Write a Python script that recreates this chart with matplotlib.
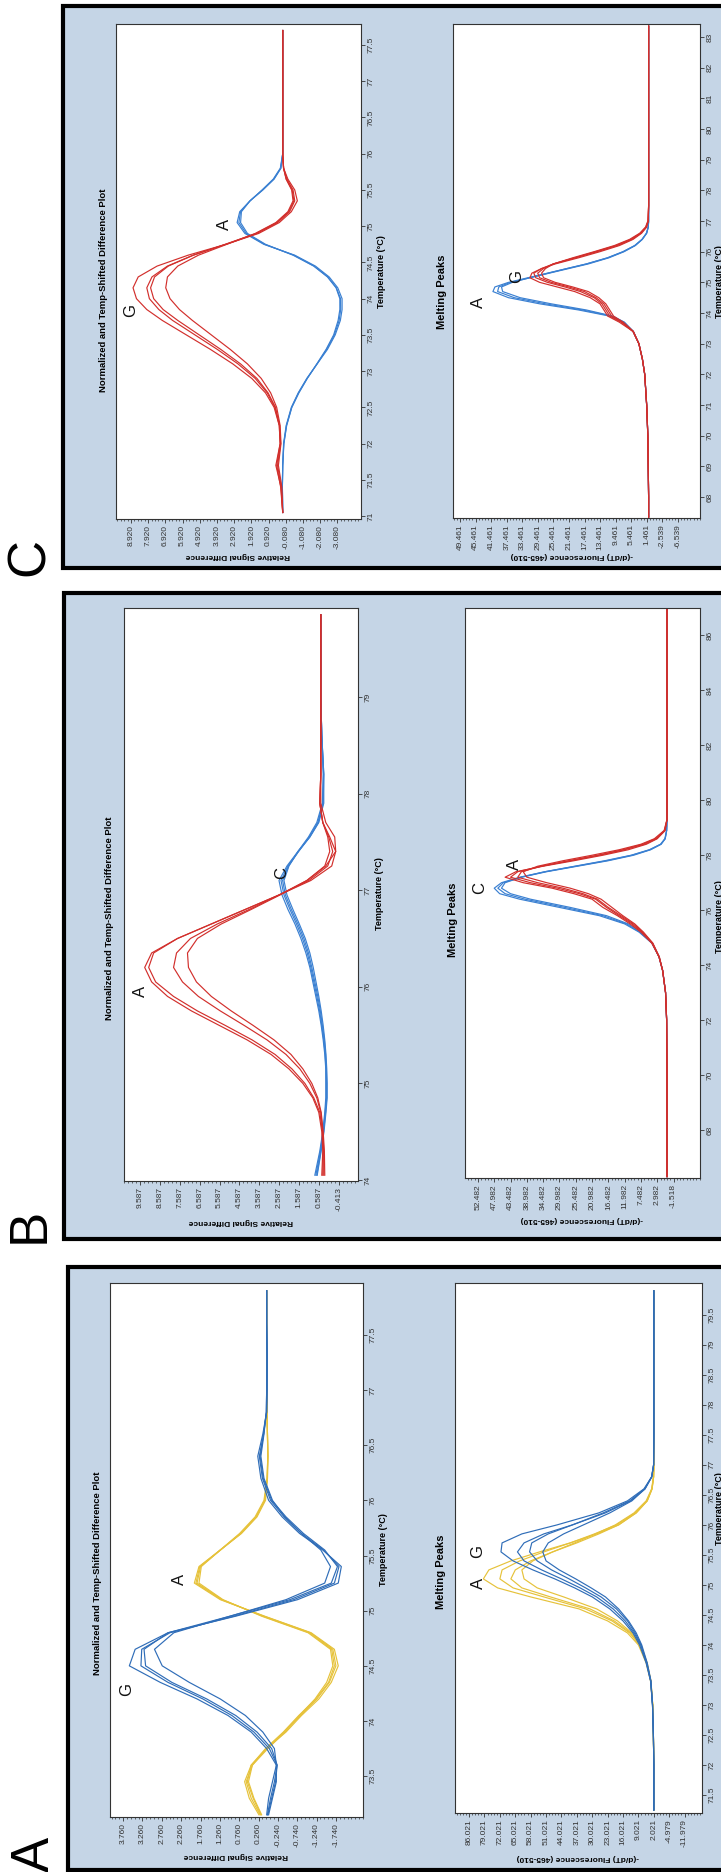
import matplotlib
matplotlib.use("Agg")
import matplotlib.pyplot as plt
from matplotlib.patches import Rectangle
from matplotlib.ticker import AutoMinorLocator

plt.rcParams['font.family'] = ['Liberation Sans', 'DejaVu Sans']

# ---------------- data ----------------
# Panel A - difference plot
a_diff_t = [73.15, 73.3, 73.45, 73.6, 73.75, 73.9, 74.05, 74.2, 74.35, 74.5, 74.65, 74.8, 74.95, 75.1,
            75.25, 75.4, 75.55, 75.7, 75.85, 76.0, 76.2, 76.4, 76.6, 76.8, 77.0, 77.3, 77.6, 77.9]
a_diff_G = [
    [0.00, -0.10, -0.20, -0.20, 0.05, 0.45, 1.05, 1.85, 2.80, 3.60, 3.45, 2.60, 0.85, -0.75,
     -1.80, -1.88, -1.40, -0.80, -0.35, 0.00, 0.20, 0.28, 0.15, 0.05, 0.04, 0.04, 0.05, 0.05],
    [0.02, -0.08, -0.18, -0.22, -0.02, 0.38, 0.95, 1.70, 2.60, 3.30, 3.28, 2.55, 0.90, -0.65,
     -1.70, -1.82, -1.42, -0.85, -0.40, -0.05, 0.16, 0.24, 0.13, 0.05, 0.04, 0.04, 0.05, 0.05],
    [0.03, -0.05, -0.15, -0.22, -0.08, 0.30, 0.85, 1.60, 2.50, 3.18, 3.22, 2.60, 1.00, -0.55,
     -1.62, -1.78, -1.45, -0.90, -0.45, -0.08, 0.14, 0.22, 0.13, 0.06, 0.05, 0.04, 0.05, 0.05],
    [0.05, 0.00, -0.10, -0.20, -0.15, 0.15, 0.60, 1.25, 2.05, 2.75, 2.95, 2.45, 1.00, -0.45,
     -1.45, -1.60, -1.35, -0.85, -0.42, -0.10, 0.12, 0.20, 0.12, 0.06, 0.05, 0.04, 0.05, 0.05],
]
a_diff_A = [
    [0.25, 0.50, 0.62, 0.45, 0.05, -0.45, -0.85, -1.30, -1.62, -1.80, -1.70, -1.10, 0.10, 1.25,
     1.92, 1.80, 1.25, 0.70, 0.30, 0.08, 0.03, 0.02, 0.03, 0.04, 0.05, 0.05, 0.05, 0.05],
    [0.22, 0.45, 0.58, 0.42, 0.02, -0.42, -0.82, -1.25, -1.57, -1.74, -1.66, -1.08, 0.12, 1.22,
     1.88, 1.78, 1.25, 0.72, 0.32, 0.10, 0.03, 0.02, 0.03, 0.04, 0.05, 0.05, 0.05, 0.05],
    [0.20, 0.40, 0.55, 0.45, 0.08, -0.38, -0.78, -1.22, -1.55, -1.70, -1.63, -1.05, 0.15, 1.20,
     1.85, 1.76, 1.24, 0.72, 0.33, 0.10, 0.04, 0.02, 0.03, 0.04, 0.05, 0.05, 0.05, 0.05],
    [0.18, 0.38, 0.52, 0.42, 0.06, -0.40, -0.80, -1.20, -1.50, -1.66, -1.60, -1.02, 0.18, 1.18,
     1.80, 1.74, 1.25, 0.75, 0.35, 0.12, 0.04, 0.02, 0.03, 0.04, 0.05, 0.05, 0.05, 0.05],
]

# Panel A - melting peaks
a_melt_t = [71.25, 72.0, 72.5, 73.0, 73.4, 73.7, 74.0, 74.2, 74.4, 74.6, 74.8, 74.95, 75.1, 75.25,
            75.4, 75.55, 75.7, 75.85, 76.0, 76.2, 76.4, 76.6, 76.8, 77.0, 77.5, 78.5, 79.9]
a_melt_A = [
    [2.0, 2.0, 2.2, 2.5, 3.5, 5.5, 9.0, 14.0, 23.0, 36.0, 58.0, 73.0, 79.5, 77.0,
     67.0, 54.0, 40.0, 28.0, 18.0, 10.0, 5.0, 2.8, 2.1, 2.0, 2.0, 2.0, 2.0],
    [2.0, 2.0, 2.2, 2.5, 3.4, 5.3, 8.5, 13.0, 21.0, 33.0, 52.0, 66.0, 72.0, 71.0,
     63.0, 52.0, 40.0, 29.0, 19.0, 10.5, 5.2, 2.9, 2.1, 2.0, 2.0, 2.0, 2.0],
    [2.0, 2.0, 2.2, 2.5, 3.4, 5.2, 8.2, 12.5, 20.0, 31.0, 49.0, 62.0, 67.0, 65.0,
     58.0, 48.0, 37.0, 27.0, 18.0, 10.0, 5.0, 2.8, 2.1, 2.0, 2.0, 2.0, 2.0],
    [2.0, 2.0, 2.2, 2.5, 3.3, 5.0, 8.0, 12.0, 18.5, 28.0, 43.0, 55.0, 61.0, 62.0,
     57.0, 48.0, 38.0, 28.5, 19.5, 11.0, 5.5, 3.0, 2.2, 2.0, 2.0, 2.0, 2.0],
]
a_melt_G = [
    [2.0, 2.0, 2.2, 2.6, 3.5, 5.5, 8.5, 11.5, 16.0, 22.0, 30.0, 38.0, 47.0, 57.0,
     66.0, 71.5, 71.0, 62.0, 46.0, 27.0, 14.0, 6.5, 3.0, 2.1, 2.0, 2.0, 2.0],
    [2.0, 2.0, 2.2, 2.6, 3.4, 5.3, 8.0, 11.0, 15.0, 20.5, 28.0, 35.5, 44.0, 53.0,
     61.0, 64.0, 61.0, 52.0, 39.0, 24.0, 12.5, 6.0, 2.9, 2.1, 2.0, 2.0, 2.0],
    [2.0, 2.0, 2.2, 2.6, 3.4, 5.2, 7.8, 10.5, 14.0, 19.0, 26.0, 33.0, 40.5, 48.5,
     55.0, 58.5, 57.5, 50.0, 39.0, 25.0, 13.0, 6.2, 3.0, 2.1, 2.0, 2.0, 2.0],
    [2.0, 2.0, 2.2, 2.6, 3.3, 5.0, 7.5, 10.0, 13.5, 18.0, 24.0, 30.5, 37.5, 45.0,
     51.0, 52.5, 50.0, 43.0, 34.0, 22.0, 12.0, 6.0, 3.0, 2.1, 2.0, 2.0, 2.0],
]

# Panel B - difference plot
b_diff_t = [74.05, 74.3, 74.5, 74.7, 74.85, 75.0, 75.15, 75.3, 75.45, 75.6, 75.75, 75.9, 76.05, 76.2,
            76.35, 76.5, 76.65, 76.8, 76.95, 77.1, 77.25, 77.4, 77.55, 77.7, 77.9, 78.2, 78.6, 79.0,
            79.4, 79.85]
b_diff_A = [
    [0.45, 0.40, 0.45, 0.60, 0.90, 1.40, 2.10, 3.00, 4.20, 5.60, 7.00, 8.20, 9.00, 9.35, 9.00,
     7.70, 6.00, 4.30, 2.60, 1.00, -0.05, -0.25, 0.05, 0.40, 0.55, 0.50, 0.50, 0.50, 0.50, 0.50],
    [0.40, 0.38, 0.42, 0.55, 0.85, 1.30, 1.95, 2.80, 3.95, 5.30, 6.70, 7.90, 8.80, 9.15, 8.90,
     7.70, 6.00, 4.30, 2.60, 1.10, 0.15, -0.10, 0.10, 0.40, 0.55, 0.50, 0.50, 0.50, 0.50, 0.50],
    [0.35, 0.35, 0.40, 0.50, 0.70, 1.05, 1.55, 2.25, 3.20, 4.35, 5.55, 6.65, 7.45, 7.90, 7.75,
     7.05, 5.70, 4.10, 2.60, 1.20, 0.30, 0.05, 0.15, 0.40, 0.55, 0.50, 0.50, 0.50, 0.50, 0.50],
    [0.30, 0.32, 0.38, 0.48, 0.65, 0.95, 1.40, 2.00, 2.85, 3.90, 5.00, 6.00, 6.75, 7.15, 7.20,
     6.70, 5.50, 4.00, 2.55, 1.20, 0.25, -0.25, -0.20, 0.25, 0.50, 0.50, 0.50, 0.50, 0.50, 0.50],
]
b_diff_C = [
    [0.80, 0.55, 0.40, 0.30, 0.25, 0.25, 0.25, 0.30, 0.38, 0.48, 0.60, 0.75, 0.90, 1.05, 1.25,
     1.50, 1.80, 2.15, 2.45, 2.60, 2.20, 1.65, 1.05, 0.60, 0.35, 0.35, 0.45, 0.50, 0.50, 0.50],
    [0.75, 0.52, 0.38, 0.28, 0.22, 0.22, 0.24, 0.28, 0.35, 0.45, 0.56, 0.70, 0.85, 1.00, 1.18,
     1.42, 1.72, 2.05, 2.35, 2.50, 2.15, 1.62, 1.05, 0.62, 0.38, 0.35, 0.45, 0.50, 0.50, 0.50],
    [0.70, 0.50, 0.36, 0.26, 0.20, 0.20, 0.22, 0.26, 0.32, 0.42, 0.52, 0.65, 0.80, 0.95, 1.12,
     1.35, 1.65, 1.98, 2.28, 2.42, 2.12, 1.62, 1.08, 0.65, 0.40, 0.36, 0.45, 0.50, 0.50, 0.50],
    [0.68, 0.48, 0.34, 0.24, 0.18, 0.18, 0.20, 0.24, 0.30, 0.38, 0.48, 0.60, 0.74, 0.88, 1.05,
     1.28, 1.58, 1.90, 2.20, 2.35, 2.10, 1.65, 1.12, 0.70, 0.42, 0.38, 0.45, 0.50, 0.50, 0.50],
]

# Panel B - melting peaks
b_melt_t = [66.3, 68.0, 70.0, 72.0, 73.0, 73.8, 74.3, 74.8, 75.2, 75.5, 75.8, 76.1, 76.4, 76.6, 76.8,
            77.0, 77.2, 77.4, 77.6, 77.8, 78.0, 78.2, 78.4, 78.6, 78.9, 79.3, 80.0, 82.0, 84.0, 86.0, 87.0]
b_melt_C = [
    [0.3, 0.3, 0.3, 0.4, 0.7, 1.5, 2.5, 4.5, 8.0, 12.0, 19.0, 30.0, 41.0, 46.5, 48.0,
     46.0, 41.0, 34.0, 25.5, 17.0, 10.0, 5.0, 2.0, 0.8, 0.4, 0.3, 0.3, 0.3, 0.3, 0.3, 0.3],
    [0.3, 0.3, 0.3, 0.4, 0.7, 1.5, 2.5, 4.4, 7.8, 11.5, 18.0, 28.5, 39.5, 45.0, 47.0,
     45.5, 40.5, 33.5, 25.0, 16.5, 9.5, 4.8, 1.9, 0.8, 0.4, 0.3, 0.3, 0.3, 0.3, 0.3, 0.3],
    [0.3, 0.3, 0.3, 0.4, 0.7, 1.5, 2.5, 4.3, 7.5, 11.0, 17.0, 27.0, 38.0, 43.5, 46.0,
     45.0, 40.5, 34.0, 25.8, 17.5, 10.2, 5.2, 2.1, 0.9, 0.4, 0.3, 0.3, 0.3, 0.3, 0.3, 0.3],
]
b_melt_A = [
    [0.3, 0.3, 0.3, 0.4, 0.7, 1.5, 2.5, 4.5, 7.5, 10.5, 14.0, 18.0, 21.0, 26.0, 32.0,
     40.0, 45.0, 42.0, 34.5, 26.0, 18.0, 11.0, 6.0, 3.0, 0.8, 0.3, 0.3, 0.3, 0.3, 0.3, 0.3],
    [0.3, 0.3, 0.3, 0.4, 0.7, 1.5, 2.5, 4.4, 7.2, 10.0, 13.5, 17.0, 20.0, 24.5, 30.5,
     38.0, 43.5, 41.5, 35.0, 27.0, 19.0, 12.0, 6.5, 3.2, 0.9, 0.3, 0.3, 0.3, 0.3, 0.3, 0.3],
    [0.3, 0.3, 0.3, 0.4, 0.7, 1.5, 2.5, 4.3, 7.0, 9.6, 13.0, 16.5, 19.5, 23.5, 29.0,
     36.0, 41.5, 40.5, 35.0, 27.5, 19.5, 12.5, 7.0, 3.5, 1.0, 0.3, 0.3, 0.3, 0.3, 0.3, 0.3],
    [0.3, 0.3, 0.3, 0.4, 0.7, 1.5, 2.4, 4.2, 6.8, 9.2, 12.5, 15.5, 18.5, 22.0, 27.0,
     33.5, 39.0, 40.0, 36.0, 29.0, 21.0, 13.5, 7.5, 3.8, 1.1, 0.3, 0.3, 0.3, 0.3, 0.3, 0.3],
]

# Panel C - difference plot
c_diff_t = [71.05, 71.4, 71.7, 72.0, 72.25, 72.5, 72.7, 72.9, 73.1, 73.3, 73.5, 73.7, 73.85, 74.0,
            74.15, 74.3, 74.45, 74.6, 74.75, 74.9, 75.05, 75.2, 75.35, 75.5, 75.65, 75.8, 76.0, 76.4,
            76.8, 77.2, 77.7]
c_diff_G = [
    [0.10, 0.20, 0.50, 0.25, 0.30, 0.60, 1.10, 1.90, 3.00, 4.30, 5.70, 7.10, 8.00, 8.60, 8.80,
     8.50, 7.40, 5.60, 3.40, 1.50, 0.30, -0.40, -0.75, -0.60, -0.20, 0.05, 0.10, 0.10, 0.10, 0.10, 0.10],
    [0.10, 0.22, 0.45, 0.25, 0.30, 0.55, 1.00, 1.70, 2.70, 3.90, 5.20, 6.50, 7.30, 7.85, 8.00,
     7.70, 6.80, 5.30, 3.40, 1.60, 0.40, -0.30, -0.60, -0.50, -0.15, 0.05, 0.10, 0.10, 0.10, 0.10, 0.10],
    [0.10, 0.18, 0.40, 0.22, 0.28, 0.52, 0.95, 1.60, 2.55, 3.70, 4.95, 6.20, 7.05, 7.60, 7.78,
     7.55, 6.75, 5.30, 3.45, 1.65, 0.45, -0.25, -0.55, -0.45, -0.10, 0.05, 0.10, 0.10, 0.10, 0.10, 0.10],
    [0.10, 0.15, 0.35, 0.20, 0.25, 0.45, 0.80, 1.35, 2.15, 3.15, 4.25, 5.35, 6.10, 6.65, 6.90,
     6.80, 6.20, 5.00, 3.35, 1.70, 0.50, -0.20, -0.50, -0.42, -0.10, 0.05, 0.10, 0.10, 0.10, 0.10, 0.10],
]
c_diff_A = [
    [0.10, 0.12, 0.10, 0.05, -0.10, -0.40, -0.80, -1.30, -1.90, -2.50, -2.95, -3.25, -3.35, -3.35,
     -3.10, -2.60, -1.80, -0.60, 1.20, 2.30, 2.75, 2.60, 2.00, 1.25, 0.60, 0.20, 0.10, 0.10, 0.10, 0.10, 0.10],
    [0.10, 0.12, 0.10, 0.04, -0.12, -0.42, -0.82, -1.32, -1.90, -2.45, -2.90, -3.18, -3.27, -3.26,
     -3.02, -2.52, -1.72, -0.55, 1.15, 2.22, 2.65, 2.55, 2.00, 1.28, 0.62, 0.22, 0.10, 0.10, 0.10, 0.10, 0.10],
    [0.10, 0.12, 0.10, 0.03, -0.13, -0.43, -0.84, -1.33, -1.88, -2.42, -2.86, -3.12, -3.22, -3.22,
     -3.00, -2.50, -1.70, -0.50, 1.10, 2.15, 2.55, 2.50, 2.00, 1.30, 0.65, 0.24, 0.10, 0.10, 0.10, 0.10, 0.10],
]

# Panel C - melting peaks
c_melt_t = [67.35, 68.0, 69.0, 70.0, 71.0, 72.0, 72.5, 73.0, 73.4, 73.7, 73.9, 74.1, 74.3, 74.5, 74.7,
            74.85, 75.0, 75.15, 75.3, 75.45, 75.6, 75.8, 76.0, 76.2, 76.4, 76.6, 76.8, 77.0, 77.5,
            78.0, 80.0, 83.35]
c_melt_A = [
    [1.0, 1.0, 1.1, 1.2, 1.5, 2.0, 2.6, 3.5, 5.0, 7.5, 11.0, 19.0, 29.0, 37.0, 41.0, 40.5,
     37.0, 32.0, 27.0, 22.0, 17.0, 11.5, 7.5, 4.5, 2.7, 1.5, 1.1, 1.0, 1.0, 1.0, 1.0, 1.0],
    [1.0, 1.0, 1.1, 1.2, 1.5, 2.0, 2.6, 3.5, 5.0, 7.3, 10.5, 18.0, 27.5, 35.5, 39.8, 39.5,
     36.5, 31.5, 26.5, 21.5, 16.5, 11.2, 7.3, 4.4, 2.6, 1.5, 1.1, 1.0, 1.0, 1.0, 1.0, 1.0],
    [1.0, 1.0, 1.1, 1.2, 1.5, 2.0, 2.6, 3.5, 4.9, 7.2, 10.2, 17.0, 26.0, 34.0, 38.5, 38.8,
     36.0, 31.5, 26.8, 22.0, 17.0, 11.6, 7.6, 4.6, 2.7, 1.6, 1.1, 1.0, 1.0, 1.0, 1.0, 1.0],
]
c_melt_G = [
    [1.0, 1.0, 1.1, 1.2, 1.5, 2.0, 2.6, 3.5, 5.0, 8.5, 11.5, 12.5, 13.5, 16.0, 20.0, 24.5,
     29.0, 31.5, 31.0, 28.5, 25.0, 19.0, 13.5, 8.5, 5.0, 2.8, 1.5, 1.1, 1.0, 1.0, 1.0, 1.0],
    [1.0, 1.0, 1.1, 1.2, 1.5, 2.0, 2.6, 3.5, 5.0, 8.0, 11.0, 12.0, 13.0, 15.0, 18.5, 22.5,
     27.0, 30.0, 30.5, 28.5, 25.5, 19.8, 14.2, 9.0, 5.3, 3.0, 1.6, 1.1, 1.0, 1.0, 1.0, 1.0],
    [1.0, 1.0, 1.1, 1.2, 1.5, 2.0, 2.6, 3.5, 5.0, 7.8, 10.5, 11.5, 12.5, 14.5, 17.5, 21.5,
     26.0, 29.0, 29.5, 28.0, 25.5, 20.0, 14.6, 9.4, 5.6, 3.1, 1.7, 1.1, 1.0, 1.0, 1.0, 1.0],
    [1.0, 1.0, 1.1, 1.2, 1.5, 2.0, 2.6, 3.5, 4.9, 7.5, 10.0, 11.0, 12.0, 13.8, 16.5, 20.5,
     25.0, 28.0, 28.5, 27.5, 25.5, 20.5, 15.0, 9.8, 5.9, 3.3, 1.8, 1.2, 1.0, 1.0, 1.0, 1.0],
]

# tick values
a_diff_vticks = [3.760, 3.260, 2.760, 2.260, 1.760, 1.260, 0.760, 0.260, -0.240, -0.740, -1.240, -1.740]
a_melt_vticks = [86.021, 79.021, 72.021, 65.021, 58.021, 51.021, 44.021, 37.021, 30.021, 23.021,
                 16.021, 9.021, 2.021, -4.979, -11.979]
b_diff_vticks = [9.587, 8.587, 7.587, 6.587, 5.587, 4.587, 3.587, 2.587, 1.587, 0.587, -0.413]
b_melt_vticks = [52.482, 47.982, 43.482, 38.982, 34.482, 29.982, 25.482, 20.982, 16.482, 11.982,
                 7.482, 2.982, -1.518]
c_diff_vticks = [8.920, 7.920, 6.920, 5.920, 4.920, 3.920, 2.920, 1.920, 0.920, -0.080, -1.080,
                 -2.080, -3.080]
c_melt_vticks = [49.461, 45.461, 41.461, 37.461, 33.461, 29.461, 25.461, 21.461, 17.461, 13.461,
                 9.461, 5.461, 1.461, -2.539, -6.539]
a_diff_tticks = [73.5, 74, 74.5, 75, 75.5, 76, 76.5, 77, 77.5]
a_melt_tticks = [71.5, 72, 72.5, 73, 73.5, 74, 74.5, 75, 75.5, 76, 76.5, 77, 77.5, 78, 78.5, 79, 79.5]
b_diff_tticks = [74, 75, 76, 77, 78, 79]
b_melt_tticks = [68, 70, 72, 74, 76, 78, 80, 82, 84, 86]
c_diff_tticks = [71, 71.5, 72, 72.5, 73, 73.5, 74, 74.5, 75, 75.5, 76, 76.5, 77, 77.5]
c_melt_tticks = [68, 69, 70, 71, 72, 73, 74, 75, 76, 77, 78, 79, 80, 81, 82, 83]

YELLOW = '#e6c23a'
BLUE_A = '#2f6db8'
RED = '#d22f2c'
BLUE = '#3a80d2'
BG = '#c5d5e6'

# ---------------- figure (landscape figure turned a quarter turn) ----------------
W, H = 721, 1872
fig = plt.figure(figsize=(W / 100, H / 100), dpi=100)


def rect(x0, y0, x1, y1):
    return [x0 / W, 1 - y1 / H, (x1 - x0) / W, (y1 - y0) / H]


def ftext(x, y, s, **kw):
    fig.text(x / W, 1 - y / H, s, ha='center', va='center', **kw)


def make_axes(pos, xlim, ylim, vticks, tticks):
    ax = fig.add_axes(rect(*pos))
    ax.set_xlim(*xlim)
    ax.set_ylim(*ylim)
    ax.set_xticks(vticks)
    ax.set_xticklabels(['{:.3f}'.format(v) for v in vticks], rotation=90)
    ax.xaxis.set_minor_locator(AutoMinorLocator(5))
    ax.yaxis.tick_right()
    ax.set_yticks(tticks)
    ax.set_yticklabels(['{:g}'.format(t) for t in tticks], rotation=90, va='center')
    ax.tick_params(axis='both', which='major', direction='out', length=3, width=0.6,
                   labelsize=6, colors='#333333', pad=1.5)
    ax.tick_params(axis='x', which='minor', direction='out', length=1.5, width=0.5, colors='#333333')
    for s in ax.spines.values():
        s.set_linewidth(0.8)
        s.set_color('#333333')
    return ax


def draw(ax, t, groups):
    for reps, color in groups:
        for r in reps:
            ax.plot(r, t, color=color, lw=0.85)


def note(ax, x, y, s):
    ax.text(x, y, s, rotation=90, fontsize=12, ha='center', va='center', color='#111111')


# panel boxes
for (x0, y0, x1, y1) in [(63, 6, 760, 568), (64, 593, 760, 1239), (68, 1267, 760, 1870)]:
    fig.add_artist(Rectangle((x0 / W, 1 - y1 / H), (x1 - x0) / W, (y1 - y0) / H,
                             transform=fig.transFigure, facecolor=BG, edgecolor='black',
                             linewidth=3, zorder=-1))

title = 'Normalized and Temp-Shifted Difference Plot'
tlabel = 'Temperature (°C)'
vlabel = 'Relative Signal Difference'
mlabel = '-(d/dT) Fluorescence (465-510)'
letter_font = ['Liberation Sans Narrow', 'Liberation Sans', 'DejaVu Sans']

# ---- panel C ----
ax = make_axes((116, 24, 361, 519), (9.79, -4.45), (70.96, 77.79), c_diff_vticks, c_diff_tticks)
draw(ax, c_diff_t, [(c_diff_A, BLUE), (c_diff_G, RED)])
note(ax, 8.92, 73.84, 'G')
note(ax, 3.47, 75.03, 'A')
ax = make_axes((453, 24, 700, 518), (51.26, -12.2), (67.32, 83.42), c_melt_vticks, c_melt_tticks)
draw(ax, c_melt_t, [(c_melt_A, BLUE), (c_melt_G, RED)])
note(ax, 44.8, 74.33, 'A')
note(ax, 34.8, 75.18, 'G')
ftext(104, 290, title, rotation=90, fontsize=6.8, fontweight='bold')
ftext(442, 292, 'Melting Peaks', rotation=90, fontsize=8, fontweight='bold')
ftext(238, 556, vlabel, rotation=180, fontsize=6, fontweight='bold')
ftext(572, 555, mlabel, rotation=180, fontsize=6, fontweight='bold')
ftext(382, 272, tlabel, rotation=90, fontsize=6.5, fontweight='bold')
ftext(719, 282, tlabel, rotation=90, fontsize=6.5, fontweight='bold')
ftext(30, 557, 'C', rotation=90, fontsize=38, family=letter_font)

# ---- panel B ----
ax = make_axes((124, 608, 358, 1181), (10.39, -1.37), (73.99, 79.92), b_diff_vticks, b_diff_tticks)
draw(ax, b_diff_t, [(b_diff_C, BLUE), (b_diff_A, RED)])
note(ax, 9.587, 75.95, 'A')
note(ax, 2.48, 77.18, 'C')
ax = make_axes((465, 608, 700, 1178), (56.07, -8.81), (66.25, 87.0), b_melt_vticks, b_melt_tticks)
draw(ax, b_melt_t, [(b_melt_C, BLUE), (b_melt_A, RED)])
note(ax, 52.0, 76.8, 'C')
note(ax, 42.3, 77.67, 'A')
ftext(110, 918, title, rotation=90, fontsize=6.8, fontweight='bold')
ftext(453, 920, 'Melting Peaks', rotation=90, fontsize=8, fontweight='bold')
ftext(241, 1222, vlabel, rotation=180, fontsize=6, fontweight='bold')
ftext(582, 1220, mlabel, rotation=180, fontsize=6, fontweight='bold')
ftext(379, 894, tlabel, rotation=90, fontsize=6.5, fontweight='bold')
ftext(719, 917, tlabel, rotation=90, fontsize=6.5, fontweight='bold')
ftext(30, 1225, 'B', rotation=90, fontsize=38, family=letter_font)

# ---- panel A ----
ax = make_axes((110, 1283, 363, 1817), (4.10, -2.44), (73.13, 77.97), a_diff_vticks, a_diff_tticks)
draw(ax, a_diff_t, [(a_diff_A, YELLOW), (a_diff_G, BLUE_A)])
note(ax, 3.68, 74.29, 'G')
note(ax, 2.31, 75.28, 'A')
ax = make_axes((455, 1283, 702, 1813), (92.4, -19.9), (71.2, 80.03), a_melt_vticks, a_melt_tticks)
draw(ax, a_melt_t, [(a_melt_A, YELLOW), (a_melt_G, BLUE_A)])
note(ax, 81.9, 75.03, 'A')
note(ax, 81.9, 75.55, 'G')
ftext(97, 1573, title, rotation=90, fontsize=6.8, fontweight='bold')
ftext(441, 1572, 'Melting Peaks', rotation=90, fontsize=8, fontweight='bold')
ftext(236, 1856, vlabel, rotation=180, fontsize=6, fontweight='bold')
ftext(578, 1857, mlabel, rotation=180, fontsize=6, fontweight='bold')
ftext(384, 1550, tlabel, rotation=90, fontsize=6.5, fontweight='bold')
ftext(719, 1509, tlabel, rotation=90, fontsize=6.5, fontweight='bold')
ftext(35, 1854, 'A', rotation=90, fontsize=38, family=letter_font)

fig.savefig('out.png', dpi=100)
